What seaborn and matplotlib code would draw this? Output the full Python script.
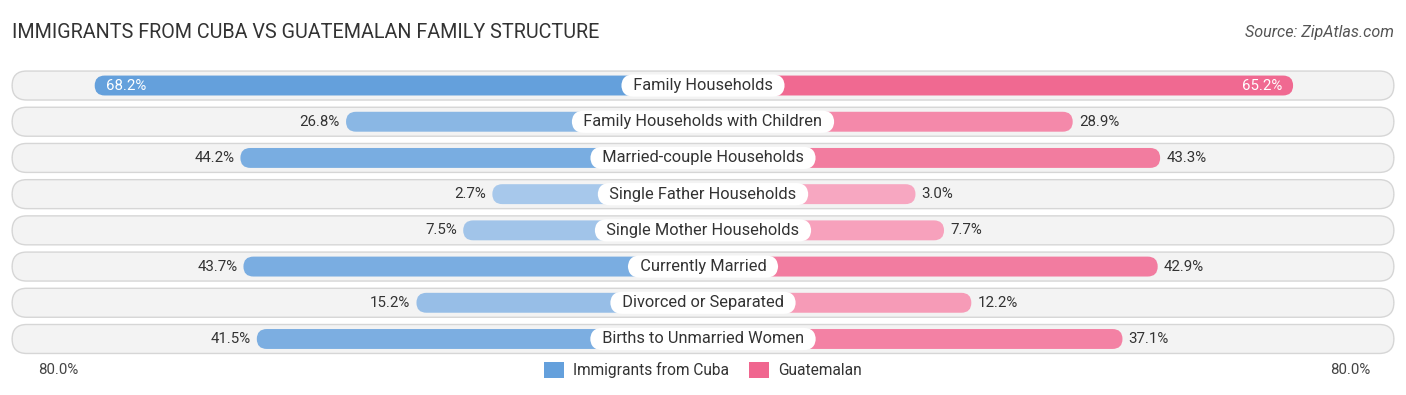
import numpy as np
import pandas as pd
import matplotlib
matplotlib.use("Agg")
import matplotlib.pyplot as plt
import seaborn as sns
from matplotlib.patches import FancyBboxPatch, Patch
from matplotlib.colors import to_rgb

categories = [
    "Family Households",
    "Family Households with Children",
    "Married-couple Households",
    "Single Father Households",
    "Single Mother Households",
    "Currently Married",
    "Divorced or Separated",
    "Births to Unmarried Women",
]
cuba = [68.2, 26.8, 44.2, 2.7, 7.5, 43.7, 15.2, 41.5]
guatemalan = [65.2, 28.9, 43.3, 3.0, 7.7, 42.9, 12.2, 37.1]

TITLE = "IMMIGRANTS FROM CUBA VS GUATEMALAN FAMILY STRUCTURE"
SOURCE = "Source: ZipAtlas.com"
SERIES = ["Immigrants from Cuba", "Guatemalan"]
AXIS_MAX_LABEL = "80.0%"

BLUE_FULL, BLUE_LIGHT = "#64a0dc", "#adcbec"
PINK_FULL, PINK_LIGHT = "#f0668f", "#f8adc5"

GAP = 32.0        # bar extension hidden under the centre label
XLIM = 115.8
BAR_H = 0.55
PILL_H = 0.80
PILL_W = 113.8

sns.set_theme(style="white")
plt.rcParams["font.family"] = ["Roboto", "DejaVu Sans"]

df = pd.DataFrame({"category": categories, "cuba": cuba, "guatemalan": guatemalan})
df["left"] = -(GAP + df["cuba"])
df["right"] = GAP + df["guatemalan"]


def shade(light, full, t):
    a, b = np.array(to_rgb(light)), np.array(to_rgb(full))
    return tuple(a + (b - a) * t)


vmax = max(max(cuba), max(guatemalan))
left_cols = [shade(BLUE_LIGHT, BLUE_FULL, (v / vmax) ** 0.8) for v in cuba]
right_cols = [shade(PINK_LIGHT, PINK_FULL, (v / vmax) ** 0.8) for v in guatemalan]

fig = plt.figure(figsize=(14.06, 3.95), dpi=100)
ax = fig.add_axes([0, 0, 1, 1])
n = len(categories)
row_px = 36.2
px_x = 1406 / (2 * XLIM)

# background pills
r_pill = 14.5 / px_x
asp_pill = (14.5 / row_px) / r_pill
for i in range(n):
    ax.add_patch(FancyBboxPatch((-PILL_W, i - PILL_H / 2), 2 * PILL_W, PILL_H,
                                boxstyle=f"round,pad=0,rounding_size={r_pill}",
                                mutation_aspect=asp_pill, fc="#f3f3f3",
                                ec="#d6d6d6", lw=1.0, zorder=0.5))

sns.barplot(data=df, x="left", y="category", order=categories, orient="h",
            palette=left_cols, hue="category", legend=False, width=BAR_H,
            saturation=1, ax=ax, zorder=2)
sns.barplot(data=df, x="right", y="category", order=categories, orient="h",
            palette=right_cols, hue="category", legend=False, width=BAR_H,
            saturation=1, ax=ax, zorder=2)

# turn the seaborn rectangles into rounded bars
r_bar = 10.0 / px_x
asp_bar = (10.0 / row_px) / r_bar
for p in list(ax.patches):
    if isinstance(p, FancyBboxPatch):
        continue
    x0, w = p.get_x(), p.get_width()
    y0, h = p.get_y(), p.get_height()
    xa, xb = min(x0, x0 + w), max(x0, x0 + w)
    fc = p.get_facecolor()
    p.remove()
    ax.add_patch(FancyBboxPatch((xa, y0), xb - xa, h,
                                boxstyle=f"round,pad=0,rounding_size={r_bar}",
                                mutation_aspect=asp_bar, fc=fc, ec="none", zorder=2))

ax.set_xlim(-XLIM, XLIM)
ax.set_ylim(n - 1 + (395 - 339) / row_px, -85.5 / row_px)
ax.axis("off")

for i, cat in enumerate(categories):
    ax.text(0, i, f"  {cat}  ", ha="center", va="center", fontsize=11.8, color="#333333",
            zorder=4, bbox=dict(boxstyle="round,pad=0.22,rounding_size=0.75",
                                fc="white", ec="none"))
    lv, rv = cuba[i], guatemalan[i]
    if lv > 60:
        ax.text(-(GAP + lv) + 1.8, i, f"{lv:.1f}%", ha="left", va="center",
                fontsize=10.8, color="white", zorder=3)
    else:
        ax.text(-(GAP + lv) - 1.0, i, f"{lv:.1f}%", ha="right", va="center",
                fontsize=10.8, color="#333333", zorder=3)
    if rv > 60:
        ax.text(GAP + rv - 1.8, i, f"{rv:.1f}%", ha="right", va="center",
                fontsize=10.8, color="white", zorder=3)
    else:
        ax.text(GAP + rv + 1.0, i, f"{rv:.1f}%", ha="left", va="center",
                fontsize=10.8, color="#333333", zorder=3)

fig.text(12 / 1406, 1 - 33 / 395, TITLE, ha="left", va="center",
         fontsize=14.2, color="#333333")
fig.text(1394 / 1406, 1 - 33 / 395, SOURCE, ha="right", va="center",
         fontsize=11.6, color="#555555", style="italic")
fig.text(38 / 1406, 1 - 370 / 395, AXIS_MAX_LABEL, ha="left", va="center",
         fontsize=10.8, color="#444444")
fig.text(1370 / 1406, 1 - 370 / 395, AXIS_MAX_LABEL, ha="right", va="center",
         fontsize=10.8, color="#444444")

handles = [Patch(fc=BLUE_FULL, ec="none", label=SERIES[0]),
           Patch(fc=PINK_FULL, ec="none", label=SERIES[1])]
fig.legend(handles=handles, loc="center", bbox_to_anchor=(0.5, 1 - 370 / 395),
           ncol=2, frameon=False, fontsize=11.2, handlelength=1.25, handleheight=1.25,
           columnspacing=1.3, handletextpad=0.6, labelcolor="#333333")

fig.savefig("out.png", dpi=100)
